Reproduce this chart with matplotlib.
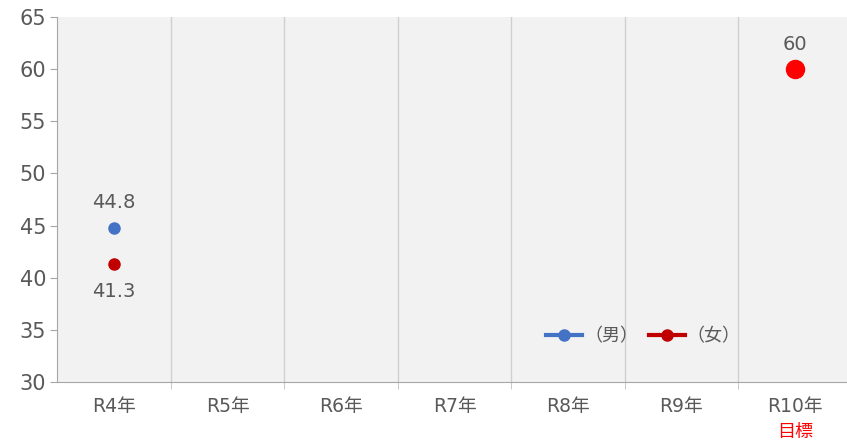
import numpy as np
import matplotlib
matplotlib.use("Agg")
import matplotlib.pyplot as plt
from matplotlib.transforms import blended_transform_factory

plt.rcParams['font.family'] = ['DejaVu Sans', 'Noto Sans CJK JP']

# data
years = ['R4年', 'R5年', 'R6年', 'R7年', 'R8年', 'R9年', 'R10年']
male = [44.8, None, None, None, None, None, None]
female = [41.3, None, None, None, None, None, None]
target_year = 'R10年'
target_value = 60
target_note = '目標'

grey_txt = '#595959'
blue = '#4472c4'
dred = '#c00000'

fig = plt.figure(figsize=(8.47, 4.41), dpi=100)
ax = fig.add_axes([0.0676, 0.1338, 0.938, 0.8277])
ax.set_facecolor('#f2f2f2')

x = np.arange(len(years))
male_arr = np.array([np.nan if v is None else v for v in male])
female_arr = np.array([np.nan if v is None else v for v in female])

ax.plot(x, male_arr, color=blue, lw=3, marker='o', ms=8, label='（男）', zorder=3)
ax.plot(x, female_arr, color=dred, lw=3, marker='o', ms=8, label='（女）', zorder=3)

ti = years.index(target_year)
ax.plot([ti], [target_value], 'o', color='#ff0000', ms=13, zorder=3)

# data labels
for i, v in enumerate(male_arr):
    if not np.isnan(v):
        ax.annotate(f'{v:.1f}', (i, v), xytext=(0, 11), textcoords='offset points',
                    ha='center', va='bottom', fontsize=14, color=grey_txt)
for i, v in enumerate(female_arr):
    if not np.isnan(v):
        ax.annotate(f'{v:.1f}', (i, v), xytext=(0, -13), textcoords='offset points',
                    ha='center', va='top', fontsize=14, color=grey_txt)
ax.annotate(f'{target_value}', (ti, target_value), xytext=(0, 11), textcoords='offset points',
            ha='center', va='bottom', fontsize=14, color=grey_txt)

ax.set_xlim(-0.5, len(years) - 0.5)
ax.set_ylim(30, 65)
ax.set_yticks(np.arange(30, 66, 5))
ax.tick_params(axis='y', colors='#a6a6a6', labelcolor=grey_txt, labelsize=15, length=5, pad=3)

ax.set_xticks(x)
ax.set_xticklabels(years)
ax.tick_params(axis='x', length=0, labelcolor=grey_txt, labelsize=13.5, pad=11)
ax.set_xticks(x[:-1] + 0.5, minor=True)
ax.tick_params(axis='x', which='minor', length=5, color='#bfbfbf')
ax.grid(axis='x', which='minor', color='#d0d0d0', lw=1)
ax.set_axisbelow(True)

trans = blended_transform_factory(ax.transData, ax.transAxes)
ax.text(ti, -0.137, target_note, transform=trans, ha='center', va='center',
        fontsize=13, color='#ff0000')

for s in ['top', 'right']:
    ax.spines[s].set_visible(False)
ax.spines['left'].set_color('#a6a6a6')
ax.spines['bottom'].set_color('#a6a6a6')

leg = ax.legend(loc='lower left', bbox_to_anchor=(0.595, 0.057), ncol=2, frameon=False,
                fontsize=13, handlelength=2.0, handletextpad=0.1, columnspacing=0.6)
for t in leg.get_texts():
    t.set_color(grey_txt)

fig.savefig('out.png', dpi=100)
